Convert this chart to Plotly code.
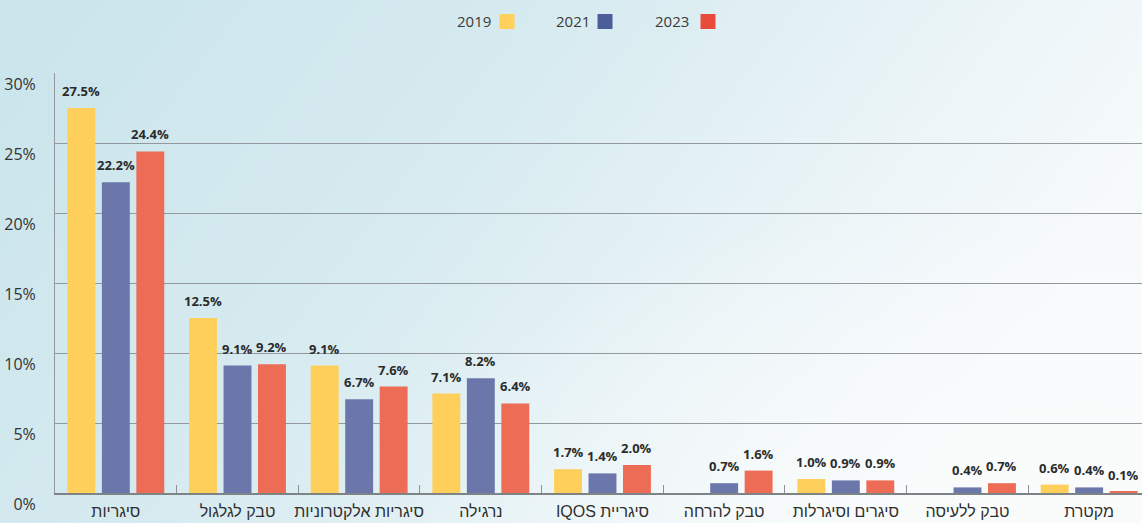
import base64
import plotly.graph_objects as go

# Tobacco product usage share by survey year (%)
categories = [
    "סיגריות",
    "טבק לגלגול",
    "סיגריות אלקטרוניות",
    "נרגילה",
    "סיגריית IQOS",
    "טבק להרחה",
    "סיגרים וסיגרלות",
    "טבק ללעיסה",
    "מקטרת",
]
years = ["2019", "2021", "2023"]
values_2019 = [27.5, 12.5, 9.1, 7.1, 1.7, None, 1.0, None, 0.6]
values_2021 = [22.2, 9.1, 6.7, 8.2, 1.4, 0.7, 0.9, 0.4, 0.4]
values_2023 = [24.4, 9.2, 7.6, 6.4, 2.0, 1.6, 0.9, 0.7, 0.1]
y_ticks = [0, 5, 10, 15, 20, 25, 30]

bar_colors = ["#FFCF5C", "#6B77AB", "#EC6C55"]
key_colors = ["#FFD05A", "#4B5E9A", "#E84A3C"]

W, H = 1142, 523
M_L, M_R, M_T, M_B = 55, 0, 73, 30
plot_w = W - M_L - M_R
plot_h = H - M_T - M_B

BAR_GAP = 0.15
GROUP_GAP = 0.19
slot = (1 - BAR_GAP) / len(years)

# Hebrew labels are wrapped in RTL embedding so mixed text reads right-to-left
rtl = lambda s: "\u202B" + s + "\u202C"
x_labels = [rtl(c) for c in categories]

fig = go.Figure()
series = [values_2019, values_2021, values_2023]
for k, (name, vals, col) in enumerate(zip(years, series, bar_colors)):
    fig.add_trace(go.Bar(
        x=x_labels,
        y=vals,
        name=name,
        marker=dict(color=col, line=dict(width=0)),
        showlegend=False,
    ))
    # value labels above each bar
    for i, v in enumerate(vals):
        if v is None:
            continue
        fig.add_annotation(
            x=i + (k - 1) * slot, y=v, xref="x", yref="y",
            text=f"{v:.1f}%", showarrow=False,
            xanchor="center", yanchor="bottom", yshift=6,
            font=dict(family="Open Sans, Noto Sans, sans-serif", size=13,
                      color="#2B2B2B", weight=700),
        )

# Soft sky-blue backdrop fading to white on the right
svg = f'''<svg xmlns="http://www.w3.org/2000/svg" width="{W}" height="{H}" viewBox="0 0 {W} {H}" preserveAspectRatio="none">
<defs>
<linearGradient id="g" x1="0" y1="0" x2="1" y2="0.35">
<stop offset="0" stop-color="#C9E4EB"/>
<stop offset="0.45" stop-color="#D7EBF0"/>
<stop offset="0.8" stop-color="#ECF5F8"/>
<stop offset="1" stop-color="#F7FAFB"/>
</linearGradient>
<radialGradient id="r" cx="0.95" cy="0.95" r="0.6">
<stop offset="0" stop-color="#FAFCFC" stop-opacity="0.9"/>
<stop offset="1" stop-color="#FAFCFC" stop-opacity="0"/>
</radialGradient>
</defs>
<rect width="{W}" height="{H}" fill="url(#g)"/>
<rect width="{W}" height="{H}" fill="url(#r)"/>
</svg>'''
bg_src = "data:image/svg+xml;base64," + base64.b64encode(svg.encode()).decode()

fig.add_layout_image(dict(
    source=bg_src, xref="paper", yref="paper",
    x=-M_L / plot_w, y=1 + M_T / plot_h,
    sizex=W / plot_w, sizey=H / plot_h,
    sizing="stretch", xanchor="left", yanchor="top", layer="below",
))

# Custom key: year text followed by its colour square
key_items = [(474, 507), (573, 605), (672, 708)]
for (tx, sx), yr, col in zip(key_items, years, key_colors):
    fig.add_annotation(
        x=(tx - M_L) / plot_w, y=1 + (M_T - 21) / plot_h, xref="paper", yref="paper",
        text=yr, showarrow=False, xanchor="center", yanchor="middle",
        font=dict(family="Open Sans, Noto Sans, sans-serif", size=15, color="#3A3A3A"),
    )
    fig.add_shape(
        type="rect", xref="paper", yref="paper",
        x0=(sx - 7.5 - M_L) / plot_w, x1=(sx + 7.5 - M_L) / plot_w,
        y0=1 + (M_T - 29) / plot_h, y1=1 + (M_T - 14) / plot_h,
        fillcolor=col, line=dict(width=0),
    )

n = len(categories)
fig.update_layout(
    width=W, height=H,
    margin=dict(l=M_L, r=M_R, t=M_T, b=M_B, autoexpand=False),
    paper_bgcolor="#DCEDF1",
    plot_bgcolor="rgba(0,0,0,0)",
    barmode="group",
    bargap=BAR_GAP,
    bargroupgap=GROUP_GAP,
    font=dict(family="Open Sans, Noto Sans, sans-serif", color="#333333"),
    xaxis=dict(
        range=[-0.5, n - 0.5 - 8 / 122],
        showgrid=False,
        showline=True, linecolor="#7E8386", linewidth=2,
        ticks="inside", tickson="boundaries", ticklen=8, tickcolor="#8C9194", tickwidth=1,
        tickangle=0,
        ticklabelstandoff=3,
        automargin=False,
        tickfont=dict(family="Liberation Sans, DejaVu Sans, sans-serif", size=16, color="#2F2F2F"),
        fixedrange=True,
    ),
    yaxis=dict(
        range=[0, 30],
        tickvals=y_ticks,
        ticktext=[f"{v}%" for v in y_ticks],
        showgrid=True, gridcolor="#92989B", gridwidth=1,
        zeroline=False,
        showline=True, linecolor="#92989B", linewidth=1,
        ticks="",
        ticklabelstandoff=15,
        ticklabelshift=11,
        automargin=False,
        tickfont=dict(size=16, color="#333333"),
        fixedrange=True,
    ),
)

fig.write_html("out.html")
